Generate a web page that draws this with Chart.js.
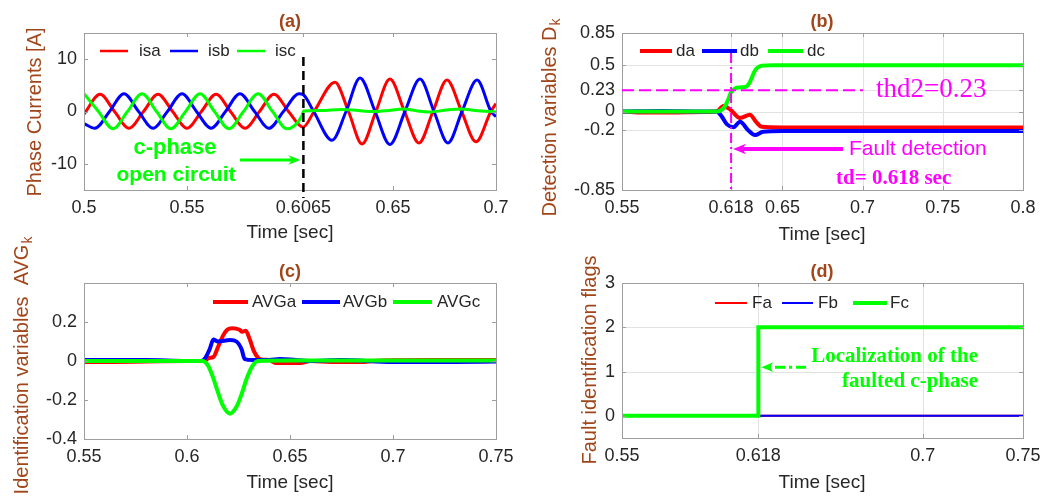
<!DOCTYPE html>
<html>
<head>
<meta charset="utf-8">
<title>Open-circuit fault detection</title>
<script src="https://cdn.jsdelivr.net/npm/chart.js@4.4.1/dist/chart.umd.min.js"></script>
<style>
    body { margin: 0; background: #fff; }
    #fig { position: relative; width: 1055px; height: 497px; }
    #fig canvas { position: absolute; left: 0; top: 0; }
</style>
</head>
<body>
<div id="fig">
    <canvas id="chart-a" width="1055" height="497"></canvas>
    <canvas id="chart-b" width="1055" height="497"></canvas>
    <canvas id="chart-c" width="1055" height="497"></canvas>
    <canvas id="chart-d" width="1055" height="497"></canvas>
</div>
<script>
// (a) phase currents
const isaT = [0.5, 0.5078, 0.5148, 0.5218, 0.5289, 0.5359, 0.543, 0.55, 0.557, 0.5641, 0.5711, 0.5782, 0.5852, 0.5922, 0.5993, 0.6063, 0.6117, 0.6218, 0.6284, 0.635, 0.6417, 0.6485, 0.6556, 0.6626, 0.6694, 0.6762, 0.6833, 0.6903, 0.6975, 0.7];
const isaV = [-0.5, 3.3, 0, -3.2, 0, 3.3, 0, -3.2, 0, 3.3, 0, -3.2, 0, 3.3, 0, -3.0, 0, 5.6, 0, -6.2, 0, 6.2, 0, -6.0, 0, 6.0, 0, -5.8, 0, 1.5];
const isbT = [0.5, 0.5053, 0.5124, 0.5194, 0.5265, 0.5335, 0.5405, 0.5476, 0.5546, 0.5617, 0.5687, 0.5757, 0.5828, 0.5898, 0.5968, 0.6044, 0.6065, 0.6115, 0.6204, 0.6272, 0.634, 0.6413, 0.6485, 0.6558, 0.6631, 0.6699, 0.6767, 0.6835, 0.6908, 0.6976, 0.7];
const isbV = [-2.3, -3.2, 0, 3.4, 0, -3.2, 0, 3.4, 0, -3.2, 0, 3.4, 0, -3.2, 0, 3.4, 3.2, 0, -5.5, 0, 6.4, 0, -6.3, 0, 6.2, 0, -6.0, 0, 6.0, 0, -1.0];
const iscT = [0.5, 0.507, 0.5141, 0.5211, 0.5282, 0.5352, 0.5422, 0.5493, 0.5563, 0.5633, 0.5704, 0.5774, 0.5845, 0.5915, 0.5985, 0.6058, 0.6066, 0.615, 0.625, 0.633, 0.64, 0.648, 0.655, 0.662, 0.668, 0.676, 0.683, 0.69, 0.7];
const iscV = [3.4, 0, -3.3, 0, 3.4, 0, -3.3, 0, 3.4, 0, -3.3, 0, 3.4, 0, -3.3, -0.8, 0.1, 0.2, 0.4, 0.2, 0.0, 0.2, 0.5, 0.1, -0.1, 0.3, 0.5, 0.2, -0.1];

// (b) detection variables
const daT = [0.55, 0.56, 0.58, 0.6, 0.609, 0.6132, 0.6175, 0.6236, 0.6298, 0.6335, 0.6371, 0.65, 0.8];
const daV = [0, -0.01, -0.01, -0.005, 0, 0.06, 0.02, -0.07, -0.035, -0.11, -0.165, -0.172, -0.172];
const dbT = [0.55, 0.575, 0.6, 0.609, 0.612, 0.6155, 0.6194, 0.6236, 0.6285, 0.6329, 0.6379, 0.65, 0.8];
const dbV = [0, 0.005, 0, 0, -0.05, -0.14, -0.17, -0.11, -0.2, -0.255, -0.22, -0.212, -0.212];
const dcT = [0.55, 0.609, 0.6115, 0.614, 0.616, 0.618, 0.6205, 0.6235, 0.6275, 0.6295, 0.631, 0.6325, 0.6341, 0.6371, 0.645, 0.8];
const dcV = [0, 0, 0.01, 0.05, 0.12, 0.21, 0.25, 0.26, 0.27, 0.31, 0.37, 0.43, 0.47, 0.495, 0.5, 0.502];

// (c) identification variables
const avgaT = [0.55, 0.56, 0.6, 0.6085, 0.6105, 0.6128, 0.615, 0.6175, 0.6195, 0.622, 0.6255, 0.6268, 0.6285, 0.6305, 0.6325, 0.6355, 0.64, 0.643, 0.655, 0.66, 0.67, 0.685, 0.69, 0.7, 0.72, 0.75];
const avgaV = [-0.005, -0.005, 0, 0, 0.015, 0.02, 0.07, 0.13, 0.16, 0.168, 0.16, 0.15, 0.155, 0.11, 0.05, 0.01, 0.005, -0.01, -0.01, 0, -0.005, -0.005, 0, 0.004, 0.005, 0.005];
const avgbT = [0.55, 0.58, 0.6, 0.6065, 0.6085, 0.611, 0.6128, 0.615, 0.6209, 0.624, 0.6265, 0.628, 0.632, 0.64, 0.645, 0.65, 0.66, 0.675, 0.7, 0.73, 0.75];
const avgbV = [0.005, 0.005, 0, 0, 0.01, 0.06, 0.11, 0.1, 0.108, 0.1, 0.06, 0.01, 0.005, 0.005, 0.01, 0.008, 0, 0.005, -0.005, -0.005, -0.003];
const avgcT = [0.55, 0.6, 0.6075, 0.61, 0.6125, 0.615, 0.6175, 0.6209, 0.624, 0.6265, 0.629, 0.6315, 0.6345, 0.65, 0.7, 0.75];
const avgcV = [0, 0, 0, -0.02, -0.08, -0.16, -0.23, -0.27, -0.235, -0.17, -0.09, -0.03, 0, 0.002, 0.002, 0.002];

// (d) fault identification flags
const faT = [0.55, 0.75];
const faV = [0, 0];
const fbT = [0.55, 0.75];
const fbV = [0, 0];
const fcT = [0.55, 0.618, 0.618, 0.75];
const fcV = [0, 0, 2, 2];

// tick labels
const xTicksA = [0.5, 0.55, 0.6065, 0.65, 0.7];
const yTicksA = [-10, 0, 10];
const xTicksB = [0.55, 0.618, 0.65, 0.7, 0.75, 0.8];
const yTicksB = [-0.85, -0.2, 0, 0.23, 0.5, 0.85];
const xTicksC = [0.55, 0.6, 0.65, 0.7, 0.75];
const yTicksC = [-0.4, -0.2, 0, 0.2];
const xTicksD = [0.55, 0.618, 0.7, 0.75];
const yTicksD = [0, 1, 2, 3];

const faultTime = 0.6065;
const detectTime = 0.618;
const thd2 = 0.23;

const W = 1055;
const H = 497;
const YW = 60;
const XH = 40;
const SANS = '"Liberation Sans", Arial, sans-serif';
const SERIF = '"Liberation Serif", "Times New Roman", serif';
const BROWN = "#A0461A";
const INK = "#262626";
const BOX = "#9e9e9e";
const RED = "#ff0000";
const BLUE = "#0000ff";
const GREEN = "#00ff00";
const MAGENTA = "#ff00ff";

function points(ts, vs) {
    return ts.map((t, i) => ({ x: t, y: vs[i] }));
}

function text(ctx, str, x, y, font, color, align = "center") {
    ctx.save();
    ctx.font = font;
    ctx.fillStyle = color;
    ctx.textAlign = align;
    ctx.textBaseline = "middle";
    ctx.fillText(str, x, y);
    ctx.restore();
}

// rotated axis label with optional subscript
function yTitle(ctx, main, sub, x, y) {
    ctx.save();
    ctx.translate(x, y);
    ctx.rotate(-Math.PI / 2);
    ctx.fillStyle = BROWN;
    ctx.textBaseline = "middle";
    ctx.textAlign = "left";
    ctx.font = `20px ${SANS}`;
    const w1 = ctx.measureText(main).width;
    ctx.font = `14px ${SANS}`;
    const w2 = sub ? ctx.measureText(sub).width : 0;
    const x0 = -(w1 + w2) / 2;
    ctx.font = `20px ${SANS}`;
    ctx.fillText(main, x0, 0);
    if (sub) {
        ctx.font = `14px ${SANS}`;
        ctx.fillText(sub, x0 + w1 + 1, 6);
    }
    ctx.restore();
}

function line(ctx, x1, y1, x2, y2, color, width, dash = []) {
    ctx.save();
    ctx.strokeStyle = color;
    ctx.lineWidth = width;
    ctx.setLineDash(dash);
    ctx.beginPath();
    ctx.moveTo(x1, y1);
    ctx.lineTo(x2, y2);
    ctx.stroke();
    ctx.restore();
}

function arrow(ctx, x1, y1, x2, y2, color, width, dash = []) {
    const a = Math.atan2(y2 - y1, x2 - x1);
    const head = 9 + width;
    const c = Math.cos(a);
    const s = Math.sin(a);
    line(ctx, x1, y1, x2 - c * head * 0.7, y2 - s * head * 0.7, color, width, dash);
    ctx.save();
    ctx.fillStyle = color;
    ctx.beginPath();
    ctx.moveTo(x2, y2);
    ctx.lineTo(x2 - c * head + s * head * 0.4, y2 - s * head - c * head * 0.4);
    ctx.lineTo(x2 - c * head * 0.7, y2 - s * head * 0.7);
    ctx.lineTo(x2 - c * head - s * head * 0.4, y2 - s * head + c * head * 0.4);
    ctx.closePath();
    ctx.fill();
    ctx.restore();
}

function legend(ctx, y, items) {
    items.forEach((it) => {
        line(ctx, it.x1, y, it.x2, y, it.color, it.width);
        text(ctx, it.label, it.tx, y, `17px ${SANS}`, INK, "left");
    });
}

// box, inner tick marks and optional light grid, drawn around the plot area
function axesPlugin(grid, extras) {
    return {
        id: "axesBox",
        beforeDatasetsDraw(chart) {
            if (!grid) return;
            const { ctx, chartArea: a, scales } = chart;
            scales.x.ticks.forEach((t) => {
                const px = Math.round(scales.x.getPixelForValue(t.value)) + 0.5;
                if (px > a.left + 1 && px < a.right - 1) line(ctx, px, a.top, px, a.bottom, "#e2e2e2", 1);
            });
            scales.y.ticks.forEach((t) => {
                const py = Math.round(scales.y.getPixelForValue(t.value)) + 0.5;
                if (py > a.top + 1 && py < a.bottom - 1) line(ctx, a.left, py, a.right, py, "#e2e2e2", 1);
            });
        },
        afterDatasetsDraw(chart) {
            const { ctx, chartArea: a, scales } = chart;
            const tl = 4;
            scales.x.ticks.forEach((t) => {
                const px = Math.round(scales.x.getPixelForValue(t.value)) + 0.5;
                line(ctx, px, a.bottom, px, a.bottom - tl, BOX, 1);
                line(ctx, px, a.top, px, a.top + tl, BOX, 1);
            });
            scales.y.ticks.forEach((t) => {
                const py = Math.round(scales.y.getPixelForValue(t.value)) + 0.5;
                line(ctx, a.left, py, a.left + tl, py, BOX, 1);
                line(ctx, a.right, py, a.right - tl, py, BOX, 1);
            });
            ctx.save();
            ctx.strokeStyle = BOX;
            ctx.lineWidth = 1;
            ctx.strokeRect(Math.round(a.left) + 0.5, Math.round(a.top) + 0.5, Math.round(a.right - a.left), Math.round(a.bottom - a.top));
            ctx.restore();
        },
        afterDraw(chart) {
            extras(chart.ctx, chart.scales.x, chart.scales.y);
        },
    };
}

function axis(min, max, ticks, fixSize) {
    return {
        type: "linear",
        min: min,
        max: max,
        afterBuildTicks: (scale) => {
            scale.ticks = ticks.map((v) => ({ value: v }));
        },
        afterFit: fixSize,
        grid: { display: false, drawTicks: false },
        border: { display: false },
        ticks: {
            autoSkip: false,
            maxRotation: 0,
            padding: 7,
            color: INK,
            font: { family: SANS, size: 18 },
            callback: (v) => String(v),
        },
    };
}

function series(ts, vs, color, width, order, smooth = true) {
    return {
        data: points(ts, vs),
        borderColor: color,
        backgroundColor: color,
        borderWidth: width,
        pointRadius: 0,
        fill: false,
        order: order,
        cubicInterpolationMode: smooth ? "monotone" : "default",
        tension: 0,
    };
}

class FaultFigure {
    constructor() {
        this.charts = [];
    }
    init() {
        this.chartCurrents();
        this.chartDetection();
        this.chartIdentification();
        this.chartFlags();
    }
    panel(id, area, xAxis, yAxis, datasets, grid, extras) {
        const ctx = document.getElementById(id).getContext("2d");
        const chart = new Chart(ctx, {
            type: "line",
            data: { datasets: datasets },
            options: {
                responsive: false,
                animation: false,
                devicePixelRatio: 1,
                events: [],
                layout: {
                    padding: {
                        left: area.left - YW,
                        top: area.top,
                        right: W - area.right,
                        bottom: H - area.bottom - XH,
                    },
                },
                plugins: {
                    legend: { display: false },
                    tooltip: { enabled: false },
                    title: { display: false },
                },
                scales: {
                    x: axis(xAxis[0], xAxis[1], xAxis[2], (s) => { s.height = XH; }),
                    y: axis(yAxis[0], yAxis[1], yAxis[2], (s) => { s.width = YW; }),
                },
            },
            plugins: [axesPlugin(grid, extras)],
        });
        this.charts.push(chart);
    }
    chartCurrents() {
        this.panel(
            "chart-a",
            { left: 84, top: 33, right: 496, bottom: 190 },
            [0.5, 0.7, xTicksA],
            [-15, 15, yTicksA],
            [
                series(isaT, isaV, RED, 3, 3),
                series(isbT, isbV, BLUE, 3, 2),
                series(iscT, iscV, GREEN, 3, 1),
            ],
            false,
            (ctx, x, y) => {
                text(ctx, "(a)", 290, 22, `bold 18px ${SANS}`, BROWN);
                text(ctx, "Time [sec]", 290, 233, `19px ${SANS}`, INK);
                yTitle(ctx, "Phase Currents [A]", "", 35, 112);
                legend(ctx, 51, [
                    { x1: 100, x2: 128, tx: 139, label: "isa", color: RED, width: 2.5 },
                    { x1: 170, x2: 198, tx: 208, label: "isb", color: BLUE, width: 2.5 },
                    { x1: 237, x2: 265, tx: 275, label: "isc", color: GREEN, width: 2.5 },
                ]);
                const fx = x.getPixelForValue(faultTime);
                line(ctx, fx, 57, fx, 198, "#000", 2.5, [9, 5]);
                text(ctx, "c-phase", 175, 148, `bold 22px ${SANS}`, GREEN);
                text(ctx, "open circuit", 176, 175, `bold 21px ${SANS}`, GREEN);
                arrow(ctx, 240, 160, fx - 3, 160, GREEN, 3);
            }
        );
    }
    chartDetection() {
        this.panel(
            "chart-b",
            { left: 622, top: 33, right: 1023, bottom: 190 },
            [0.55, 0.8, xTicksB],
            [-0.85, 0.85, yTicksB],
            [
                series(daT, daV, RED, 4, 3),
                series(dbT, dbV, BLUE, 4, 2),
                series(dcT, dcV, GREEN, 4, 1),
            ],
            true,
            (ctx, x, y) => {
                text(ctx, "(b)", 822, 22, `bold 18px ${SANS}`, BROWN);
                text(ctx, "Time [sec]", 822, 235, `19px ${SANS}`, INK);
                yTitle(ctx, "Detection variables D", "k", 550, 118);
                legend(ctx, 51, [
                    { x1: 640, x2: 672, tx: 676, label: "da", color: RED, width: 4 },
                    { x1: 702, x2: 737, tx: 740, label: "db", color: BLUE, width: 4 },
                    { x1: 768, x2: 803, tx: 807, label: "dc", color: GREEN, width: 4 },
                ]);
                const ty = y.getPixelForValue(thd2);
                line(ctx, x.left, ty, 863, ty, MAGENTA, 2, [12, 5]);
                text(ctx, "thd2=0.23", 876, ty, `27px ${SERIF}`, MAGENTA, "left");
                const dx = x.getPixelForValue(detectTime);
                line(ctx, dx, 53, dx, 190, MAGENTA, 2, [10, 4, 2, 4]);
                arrow(ctx, 843, 149, dx + 2, 149, MAGENTA, 4);
                text(ctx, "Fault detection", 849, 149, `21px ${SANS}`, MAGENTA, "left");
                text(ctx, "td= 0.618 sec", 836, 179, `bold 21px ${SERIF}`, MAGENTA, "left");
            }
        );
    }
    chartIdentification() {
        this.panel(
            "chart-c",
            { left: 84, top: 283, right: 496, bottom: 439 },
            [0.55, 0.75, xTicksC],
            [-0.4, 0.4, yTicksC],
            [
                series(avgaT, avgaV, RED, 4, 3),
                series(avgbT, avgbV, BLUE, 4, 2),
                series(avgcT, avgcV, GREEN, 4, 1),
            ],
            false,
            (ctx, x, y) => {
                text(ctx, "(c)", 290, 272, `bold 18px ${SANS}`, BROWN);
                text(ctx, "Time [sec]", 290, 483, `19px ${SANS}`, INK);
                yTitle(ctx, "Identification variables  AVG", "k", 22, 366);
                legend(ctx, 302, [
                    { x1: 213, x2: 248, tx: 252, label: "AVGa", color: RED, width: 4 },
                    { x1: 302, x2: 340, tx: 343, label: "AVGb", color: BLUE, width: 4 },
                    { x1: 393, x2: 432, tx: 437, label: "AVGc", color: GREEN, width: 4 },
                ]);
            }
        );
    }
    chartFlags() {
        this.panel(
            "chart-d",
            { left: 622, top: 283, right: 1023, bottom: 438 },
            [0.55, 0.75, xTicksD],
            [-0.5, 3, yTicksD],
            [
                series(faT, faV, RED, 2, 3, false),
                series(fbT, fbV, BLUE, 2, 2, false),
                series(fcT, fcV, GREEN, 4, 1, false),
            ],
            true,
            (ctx, x, y) => {
                text(ctx, "(d)", 822, 272, `bold 18px ${SANS}`, BROWN);
                text(ctx, "Time [sec]", 822, 483, `19px ${SANS}`, INK);
                yTitle(ctx, "Fault identification flags", "", 590, 360);
                legend(ctx, 303, [
                    { x1: 715, x2: 747, tx: 752, label: "Fa", color: RED, width: 2 },
                    { x1: 782, x2: 813, tx: 818, label: "Fb", color: BLUE, width: 2 },
                    { x1: 853, x2: 887, tx: 890, label: "Fc", color: GREEN, width: 4 },
                ]);
                const ay = y.getPixelForValue(1.1);
                arrow(ctx, 806, ay, x.getPixelForValue(detectTime) + 3, ay, GREEN, 3, [10, 4, 3, 4]);
                text(ctx, "Localization of the", 978, 357, `bold 21px ${SERIF}`, GREEN, "right");
                text(ctx, "faulted c-phase", 978, 382, `bold 21px ${SERIF}`, GREEN, "right");
            }
        );
    }
}

document.addEventListener("DOMContentLoaded", function () {
    const figure = new FaultFigure();
    figure.init();
});
</script>
</body>
</html>
